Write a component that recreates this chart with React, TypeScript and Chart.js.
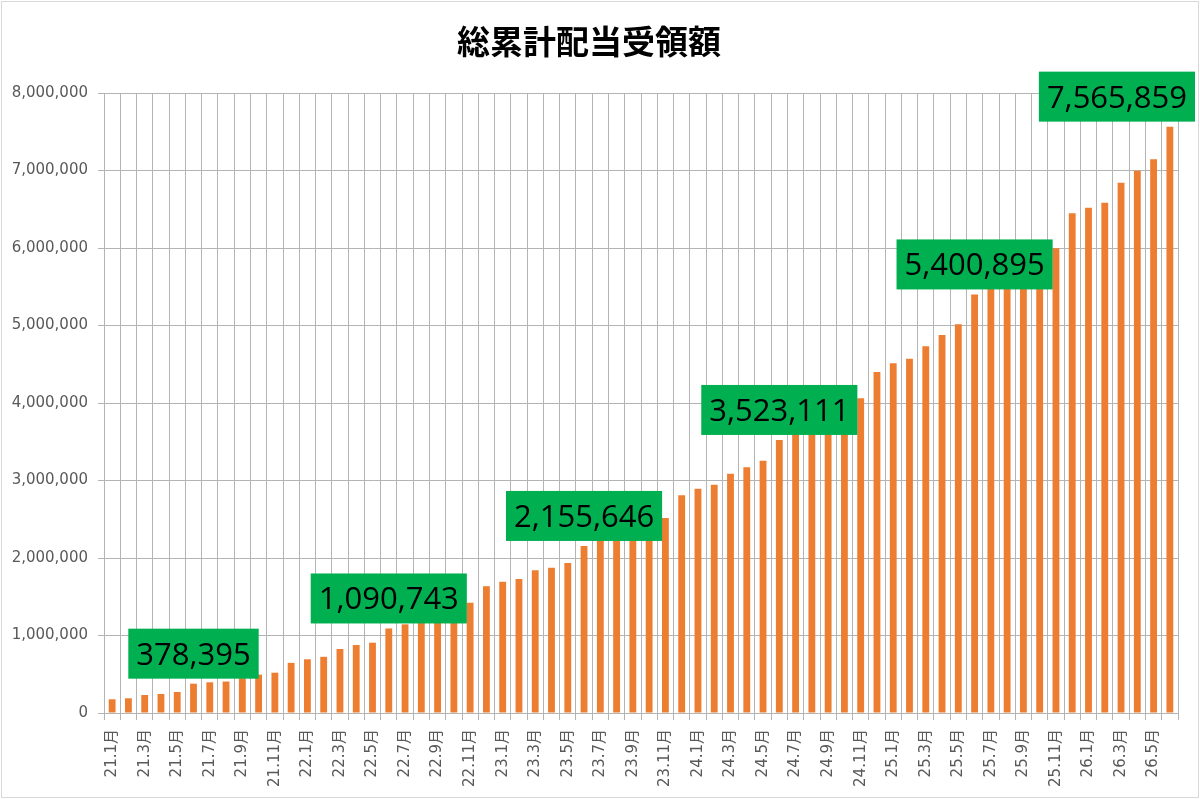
import { useEffect, useRef } from "react";
import { Chart, registerables } from "chart.js";

Chart.register(...registerables);

const months: string[] = [
  "21.1月", "21.2月", "21.3月", "21.4月", "21.5月", "21.6月", "21.7月", "21.8月", "21.9月", "21.10月", "21.11月", "21.12月",
  "22.1月", "22.2月", "22.3月", "22.4月", "22.5月", "22.6月", "22.7月", "22.8月", "22.9月", "22.10月", "22.11月", "22.12月",
  "23.1月", "23.2月", "23.3月", "23.4月", "23.5月", "23.6月", "23.7月", "23.8月", "23.9月", "23.10月", "23.11月", "23.12月",
  "24.1月", "24.2月", "24.3月", "24.4月", "24.5月", "24.6月", "24.7月", "24.8月", "24.9月", "24.10月", "24.11月", "24.12月",
  "25.1月", "25.2月", "25.3月", "25.4月", "25.5月", "25.6月", "25.7月", "25.8月", "25.9月", "25.10月", "25.11月", "25.12月",
  "26.1月", "26.2月", "26.3月", "26.4月", "26.5月", "26.6月",
];

// cumulative dividends received (yen)
const totals: number[] = [
  177000, 190000, 232000, 245000, 271000, 378395, 396000, 406000, 450000, 495000, 520000, 647000,
  693000, 725000, 826000, 877000, 907000, 1090743, 1144000, 1190000, 1240000, 1300000, 1423000, 1636000,
  1695000, 1729000, 1841000, 1875000, 1935000, 2155646, 2250000, 2300000, 2370000, 2440000, 2516000, 2809000,
  2894000, 2946000, 3088000, 3170000, 3256000, 3523111, 3620000, 3700000, 3790000, 3880000, 4060000, 4400000,
  4512000, 4572000, 4731000, 4877000, 5015000, 5400895, 5520000, 5600000, 5700000, 5820000, 5996000, 6448000,
  6520000, 6585000, 6843000, 6998000, 7144000, 7565859,
];

// months that get a green callout
const calloutMonths: string[] = ["21.6月", "22.6月", "23.6月", "24.6月", "25.6月", "26.6月"];

const yTicks: number[] = [0, 1000000, 2000000, 3000000, 4000000, 5000000, 6000000, 7000000, 8000000];

const fmt = (v: number) => v.toLocaleString("en-US");

const frame = {
  id: "frame",
  beforeDraw(chart: any) {
    const { ctx, width, height } = chart;
    ctx.save();
    ctx.fillStyle = "#ffffff";
    ctx.fillRect(0, 0, width, height);
    ctx.strokeStyle = "#d9d9d9";
    ctx.lineWidth = 1;
    ctx.strokeRect(1.5, 1.5, width - 3, height - 3);
    ctx.restore();
  },
};

const callouts = {
  id: "callouts",
  afterDatasetsDraw(chart: any) {
    const { ctx, width } = chart;
    const meta = chart.getDatasetMeta(0);
    ctx.save();
    ctx.font = "31px 'Open Sans'";
    calloutMonths.forEach((m) => {
      const i = months.indexOf(m);
      const bar = meta.data[i];
      if (!bar) return;
      const text = fmt(totals[i]);
      const w = ctx.measureText(text).width + 16;
      const h = 50;
      let x = bar.x - w / 2;
      if (x + w > width - 5) x = width - 5 - w;
      const y = bar.y - 5 - h;
      ctx.fillStyle = "#00b050";
      ctx.fillRect(x, y, w, h);
      ctx.fillStyle = "#000000";
      ctx.textAlign = "center";
      ctx.textBaseline = "alphabetic";
      ctx.fillText(text, x + w / 2, y + h / 2 + 11);
    });
    ctx.restore();
  },
};

const App = () => {
  const canvasRef = useRef<HTMLCanvasElement>(null);
  const chartRef = useRef<Chart | null>(null);

  useEffect(() => {
    if (!canvasRef.current) return;
    if (chartRef.current) chartRef.current.destroy();

    chartRef.current = new Chart(canvasRef.current, {
      type: "bar",
      data: {
        labels: months,
        datasets: [
          {
            label: "総累計配当受領額",
            data: totals,
            backgroundColor: "#ed7d31",
            categoryPercentage: 1,
            barPercentage: 0.42,
          },
        ],
      },
      options: {
        animation: false,
        responsive: true,
        maintainAspectRatio: false,
        layout: { padding: { left: 0, right: 22, top: 0, bottom: 0 } },
        plugins: {
          legend: { display: false },
          tooltip: { enabled: false },
          title: {
            display: true,
            text: "総累計配当受領額",
            color: "#000000",
            font: { family: "'Noto Sans CJK JP'", size: 33, weight: "bold", lineHeight: 1.2 },
            padding: { top: 22, bottom: 31.4 },
          },
        },
        scales: {
          x: {
            afterFit: (scale: any) => {
              scale.height = 86;
            },
            grid: { color: "#b4b4b4", offset: true, tickLength: 7 },
            border: { color: "#b4b4b4" },
            ticks: {
              autoSkip: false,
              maxRotation: 90,
              minRotation: 90,
              padding: 9,
              color: "#595959",
              font: { family: "'DejaVu Sans', 'Noto Sans CJK JP'", size: 15 },
              callback: (_v: any, i: number) => (i % 2 === 0 ? months[i] : ""),
            },
          },
          y: {
            min: yTicks[0],
            max: yTicks[yTicks.length - 1],
            afterFit: (scale: any) => {
              scale.width = 104;
            },
            afterBuildTicks: (scale: any) => {
              scale.ticks = yTicks.map((v) => ({ value: v }));
            },
            grid: { color: "#b4b4b4", tickLength: 6 },
            border: { color: "#b4b4b4" },
            ticks: {
              padding: 10,
              color: "#595959",
              font: { family: "'DejaVu Sans'", size: 15 },
              callback: (v: any) => fmt(Number(v)),
            },
          },
        },
      },
      plugins: [frame, callouts],
    });

    return () => {
      if (chartRef.current) {
        chartRef.current.destroy();
        chartRef.current = null;
      }
    };
  }, []);

  return (
    <div style={{ position: "absolute", left: 0, top: 0, width: "1200px", height: "799px" }}>
      <canvas ref={canvasRef} />
    </div>
  );
};

export default App;
